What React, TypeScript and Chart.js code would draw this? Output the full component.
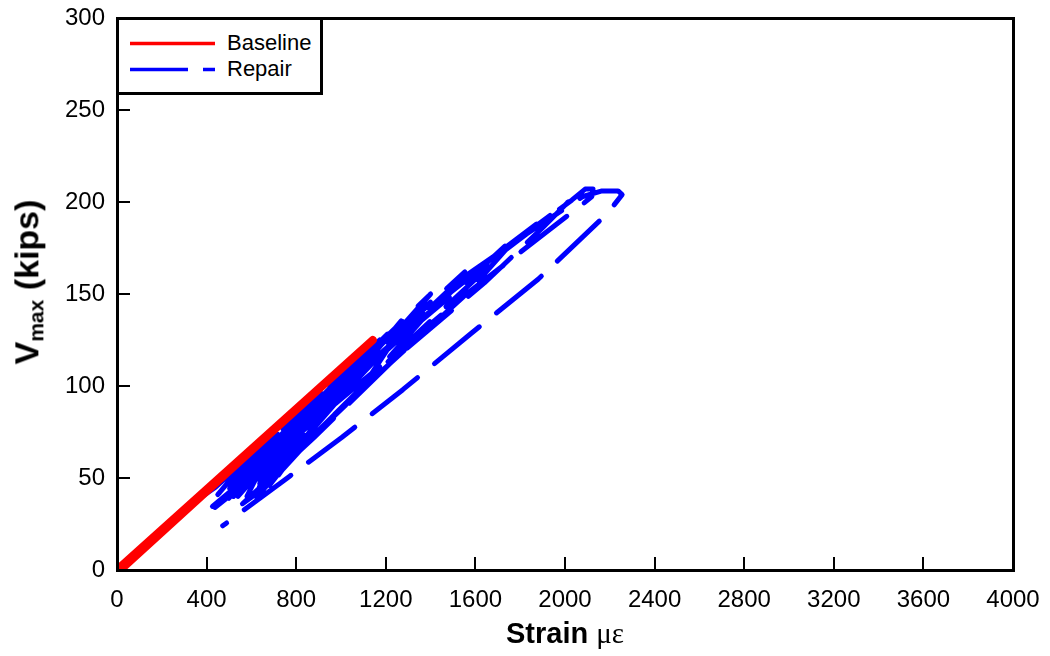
import React, { useEffect, useRef } from "react";
import { Chart, registerables } from "chart.js";

Chart.register(...registerables);

// ---- Data ----
const baselineStrain = [0, 1142, 15];
const baselineLoad = [0, 125, 0];

const repairStrain = [
  380,
  440, 631, 540, 450,
  520, 725, 640, 480,
  560, 819, 700, 500,
  600, 912, 800, 600, 520,
  620, 1004, 900, 700, 540,
  640, 1093, 980, 760, 560,
  660, 960, 1173, 1060, 800, 580,
  680, 980, 1273, 1150, 900, 610,
  660, 1000, 1200, 1100, 860, 620,
  700, 1000, 1400, 1290, 1100, 800, 640,
  720, 1030, 1553, 1450, 1115, 850, 650,
  700, 1100, 1320, 1200, 950, 680,
  740, 1040, 1500, 1732, 1600, 1300, 900, 660,
  760, 1060, 1480, 1873, 1750, 1560, 1180, 800, 620,
  700, 1000, 1470, 1760, 2014, 1900, 1640, 1250, 880, 560,
  660, 1010, 1500, 1800, 2030, 2090, 2125, 2120, 2080, 1560, 1069, 391,
  427, 520, 980, 1450, 1820, 2080, 2165, 2237, 2255, 2210, 2165, 1880, 1575, 1276, 1003, 771, 472,
];
const repairLoad = [
  40,
  45, 66, 54, 41,
  50, 76, 63, 40,
  55, 86, 68, 39,
  60, 96, 78, 50, 40,
  60, 106, 90, 62, 40,
  62, 116, 98, 68, 41,
  63, 100, 125, 106, 70, 40,
  64, 101, 136, 118, 80, 42,
  50, 103, 125, 112, 80, 42,
  65, 103, 150, 135, 100, 64, 42,
  66, 104, 162, 148, 102, 70, 45,
  52, 108, 132, 120, 88, 46,
  64, 103, 150, 176, 158, 124, 76, 44,
  62, 104, 152, 188, 176, 150, 108, 64, 40,
  48, 99, 149, 177, 200, 186, 156, 116, 72, 36,
  45, 100, 152, 180, 201, 207, 207, 203, 199, 150, 100, 31,
  33, 42, 100, 151, 182, 203, 206, 206, 204, 197, 191, 158, 128, 98, 72, 51, 24,
];

const xTicks = [0, 400, 800, 1200, 1600, 2000, 2400, 2800, 3200, 3600, 4000];
const yTicks = [0, 50, 100, 150, 200, 250, 300];

const seriesNames = ["Baseline", "Repair"];
const seriesColors = ["#ff0000", "#0000ff"];

const FONT = "'Liberation Sans', Arial, Helvetica, sans-serif";

const frameAndTicks = {
  id: "frameAndTicks",
  afterDraw(chart: any) {
    const { ctx, chartArea, scales } = chart;
    const { left, right, top, bottom } = chartArea;
    ctx.save();
    ctx.strokeStyle = "#000";
    ctx.lineWidth = 2;
    ctx.lineCap = "butt";
    xTicks.forEach((v) => {
      const px = Math.round(scales.x.getPixelForValue(v));
      ctx.beginPath();
      ctx.moveTo(px, bottom);
      ctx.lineTo(px, bottom - 13);
      ctx.stroke();
    });
    yTicks.forEach((v) => {
      const py = Math.round(scales.y.getPixelForValue(v));
      ctx.beginPath();
      ctx.moveTo(left, py);
      ctx.lineTo(left + 13, py);
      ctx.stroke();
    });
    ctx.lineWidth = 3;
    ctx.strokeRect(left + 0.5, top + 0.5, right - left, bottom - top);
    ctx.restore();
  },
};

export default function App() {
  const canvasRef = useRef<HTMLCanvasElement | null>(null);

  useEffect(() => {
    const canvas = canvasRef.current;
    if (!canvas) return;
    const chart = new Chart(canvas, {
      type: "line",
      data: {
        datasets: [
          {
            label: seriesNames[0],
            data: baselineStrain.map((x, i) => ({ x, y: baselineLoad[i] })),
            borderColor: seriesColors[0],
            backgroundColor: seriesColors[0],
            borderWidth: 8,
            pointRadius: 0,
            tension: 0,
            borderCapStyle: "round",
            borderJoinStyle: "round",
          },
          {
            label: seriesNames[1],
            data: repairStrain.map((x, i) => ({ x, y: repairLoad[i] })),
            borderColor: seriesColors[1],
            backgroundColor: seriesColors[1],
            borderWidth: 5,
            borderDash: [58, 22],
            pointRadius: 0,
            tension: 0,
            borderCapStyle: "round",
            borderJoinStyle: "round",
          },
        ],
      },
      options: {
        responsive: false,
        animation: false,
        devicePixelRatio: 1,
        layout: { padding: { left: 0, top: 18, right: 37, bottom: 0 } },
        plugins: { legend: { display: false }, tooltip: { enabled: false } },
        scales: {
          x: {
            type: "linear",
            min: 0,
            max: 4000,
            afterFit: (s: any) => {
              s.height = 86;
              s.paddingLeft = 0;
              s.paddingRight = 0;
            },
            afterBuildTicks: (s: any) => {
              s.ticks = xTicks.map((v) => ({ value: v }));
            },
            ticks: {
              padding: 16,
              color: "#000",
              font: { family: FONT, size: 24 },
              maxRotation: 0,
              autoSkip: false,
              callback: (v: any) => String(v),
            },
            grid: { display: false, drawTicks: false },
            border: { display: false },
          },
          y: {
            type: "linear",
            min: 0,
            max: 300,
            afterFit: (s: any) => {
              s.width = 117;
              s.paddingTop = 0;
              s.paddingBottom = 0;
            },
            afterBuildTicks: (s: any) => {
              s.ticks = yTicks.map((v) => ({ value: v }));
            },
            ticks: {
              padding: 12,
              color: "#000",
              font: { family: FONT, size: 24 },
              autoSkip: false,
              callback: (v: any) => String(v),
            },
            grid: { display: false, drawTicks: false },
            border: { display: false },
          },
        },
      },
      plugins: [frameAndTicks],
    });
    return () => chart.destroy();
  }, []);

  return (
    <div style={{ position: "absolute", left: 0, top: 0, width: 1050, height: 656, background: "#fff", fontFamily: FONT }}>
      <canvas ref={canvasRef} width={1050} height={656} style={{ display: "block" }} />
      {/* Legend */}
      <div
        style={{
          position: "absolute",
          left: 116,
          top: 17,
          width: 207,
          height: 78,
          border: "3px solid #000",
          boxSizing: "border-box",
          background: "#fff",
        }}
      >
        <svg width={201} height={72} style={{ position: "absolute", left: 0, top: 0 }}>
          <line x1={11} y1={23.5} x2={96} y2={23.5} stroke={seriesColors[0]} strokeWidth={3.5} />
          <line x1={11} y1={49.5} x2={96} y2={49.5} stroke={seriesColors[1]} strokeWidth={3.5} strokeDasharray="58 15" />
        </svg>
        <div style={{ position: "absolute", left: 108, top: 10, fontSize: 22, lineHeight: "26px", color: "#000" }}>{seriesNames[0]}</div>
        <div style={{ position: "absolute", left: 108, top: 36, fontSize: 22, lineHeight: "26px", color: "#000" }}>{seriesNames[1]}</div>
      </div>
      {/* X axis title */}
      <div
        style={{
          position: "absolute",
          left: 565,
          top: 633,
          transform: "translate(-50%, -50%)",
          whiteSpace: "nowrap",
          fontSize: 29,
          color: "#000",
        }}
      >
        <span style={{ fontWeight: "bold" }}>Strain </span>
        <span style={{ fontFamily: "'Liberation Serif', serif" }}>με</span>
      </div>
      {/* Y axis title */}
      <div
        style={{
          position: "absolute",
          left: 28,
          top: 282,
          transform: "translate(-50%, -50%) rotate(-90deg)",
          whiteSpace: "nowrap",
          fontSize: 34,
          fontWeight: "bold",
          color: "#000",
        }}
      >
        V<sub style={{ fontSize: 21, verticalAlign: "-0.25em" }}>max</sub> (kips)
      </div>
    </div>
  );
}
